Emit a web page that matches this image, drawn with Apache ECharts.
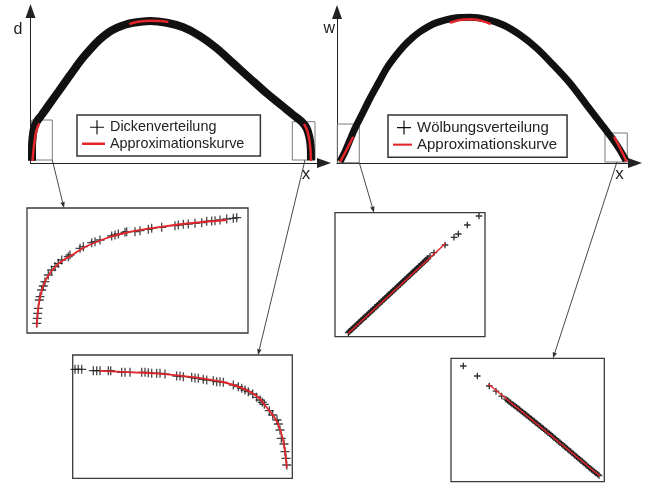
<!DOCTYPE html>
<html>
<head>
<meta charset="utf-8">
<script src="https://cdn.jsdelivr.net/npm/echarts@6/dist/echarts.min.js"></script>
<style>
  html, body { margin: 0; padding: 0; background: #fff; }
  #chart { width: 645px; height: 486px; }
</style>
</head>
<body>
<div id="chart"></div>
<script>
// ---- Thickness distribution d(x), chord position x in [0, 1] ----
const thickX = [0, 0, 0.0025, 0.0072, 0.0168, 0.0348, 0.0645, 0.0943, 0.1244, 0.1541, 0.1839, 0.2140,
  0.2437, 0.2735, 0.3036, 0.3333, 0.3631, 0.4229, 0.4828, 0.5423, 0.6022, 0.6620, 0.7215, 0.7814,
  0.8412, 0.9007, 0.9366, 0.9667, 0.9846, 0.9939, 0.9989, 1.0];
const thickD = [0.015, 0.115, 0.185, 0.244, 0.291, 0.338, 0.420, 0.502, 0.585, 0.667, 0.744, 0.812,
  0.871, 0.918, 0.951, 0.974, 0.988, 1.0, 0.988, 0.956, 0.894, 0.808, 0.702, 0.596,
  0.491, 0.396, 0.338, 0.291, 0.244, 0.185, 0.115, 0.02];
// Approximation curve, shown where it leaves the data band (null = gap)
const thickFit = [[0.0018, 0.014], [0.0054, 0.092], [0.0108, 0.176], [0.0161, 0.232], [0.0262, 0.280], [null, null],
  [0.349, 0.979], [0.387, 0.996], [0.423, 1.002], [0.459, 1.0], [0.489, 0.993], [null, null],
  [0.975, 0.275], [0.987, 0.225], [0.994, 0.162], [0.998, 0.092], [1.0, 0.014]];

// ---- Camber distribution w(x) ----
const camberX = [0, 0.0174, 0.0348, 0.0523, 0.0756, 0.1045, 0.1334, 0.1627, 0.1916, 0.2206, 0.2498,
  0.2787, 0.3077, 0.3369, 0.3948, 0.4530, 0.5111, 0.5690, 0.6272, 0.6854, 0.7432, 0.8014,
  0.8596, 0.9174, 0.9523, 0.9756, 0.9965];
const camberW = [0.009, 0.077, 0.158, 0.238, 0.329, 0.443, 0.546, 0.649, 0.728, 0.797, 0.854,
  0.899, 0.934, 0.961, 0.991, 0.998, 0.984, 0.945, 0.877, 0.786, 0.671, 0.546,
  0.397, 0.249, 0.158, 0.089, 0.016];
const camberFit = [[0, 0.007], [0.0226, 0.089], [0.0463, 0.180], [null, null],
  [0.3833, 0.961], [0.418, 0.979], [0.453, 0.984], [0.488, 0.977], [0.525, 0.952], [null, null],
  [0.9547, 0.180], [0.9774, 0.096], [0.999, 0.009]];

// Zoom windows marked in the overview plots: [[x0, y0], [x1, y1]]
const thickZoomLE = [[-0.0011, 0.3028], [0.0728, 0.0211]];
const thickZoomTE = [[0.933, 0.2908], [1.0143, 0.0211]];
const camberZoomLE = [[-0.0094, 0.267], [0.0672, 0.002]];
const camberZoomTE = [[0.9233, 0.2055], [1.0010, 0.0068]];

// ---- Enlarged views (local units of each inset) ----
const thickLEPoints = [[9.7, 9.7], [10.3, 14.7], [10.7, 19.7], [11.3, 24.7], [12.3, 33], [13, 36.3], [14.7, 43],
  [16.3, 47], [18, 51.3], [21.3, 58], [24.7, 63], [28, 66.3], [31.3, 69.7], [34.7, 73], [41.3, 76.3], [43, 78],
  [53, 84.7], [56.3, 86.3], [64.7, 90.3], [68, 91.3], [73, 93], [84.7, 97], [88, 98], [91.3, 99], [98, 100.7],
  [99.7, 101.3], [108, 101.3], [113, 102.3], [121.3, 103.7], [124.7, 104.7], [134.7, 105.7], [148, 107.3],
  [151.3, 108], [156.3, 108.7], [161.3, 109], [168, 109.7], [174.7, 110.3], [179.7, 111.7], [184.7, 112],
  [188, 112.3], [193, 113], [199.7, 114], [206.3, 114.7], [209.7, 115.3]];
const thickLEFit = [[9.7, 6], [10.5, 18], [12, 30], [14, 40], [17, 49], [21, 57], [27, 65], [35, 72], [45, 78],
  [60, 87], [80, 95], [100, 100.5], [130, 105.5], [160, 109.5], [200, 113]];

const thickTEPoints = [[2.3, 109], [5.6, 109], [9, 109], [20.6, 107.6], [24, 107.6], [27.3, 107.6], [35.6, 107.6],
  [38, 107.6], [49, 106], [52.3, 106], [57.3, 106], [69, 106], [72.3, 106], [75.6, 105.6], [79, 105], [84, 105],
  [87.3, 105], [92.3, 104.3], [104, 102.3], [107.3, 102.3], [110.6, 101.6], [119, 101], [122.3, 100.3],
  [125.6, 100], [130.6, 99], [134, 98.3], [140.6, 97.6], [144, 96.6], [147.3, 96.6], [150.6, 96], [160.6, 93.3],
  [165.6, 91.6], [169, 90], [172.3, 88.3], [175.6, 86.6], [180, 84.3], [184, 81], [187.3, 78.3], [189.6, 76],
  [191.6, 74], [196.6, 67.6], [200, 63.3], [204.3, 58.3], [205.6, 54.3], [207.3, 48.3], [208.6, 40],
  [211.3, 34.3], [212.3, 26.6], [213.3, 20], [214, 13.3]];
const thickTEFit = [[27.3, 107.5], [60, 106], [90, 104.5], [120, 101.2], [150, 96.3], [170, 90], [185, 81.5],
  [195, 69.5], [203, 59], [208, 47], [211, 35], [213, 22], [214, 10]];

const camberLEPoints = [[13.3, 4], [14.2, 5.2], [15, 5.5], [16.1, 7], [17, 7.5], [18.2, 9], [19, 9.2], [20.1, 10.6],
  [21, 11], [22.2, 12.6], [23, 13], [24.1, 14.4], [25, 15], [26.2, 16.3], [27, 16.6], [28.1, 18.2], [29, 18.6],
  [30.2, 20], [31, 20.3], [32.1, 22], [33, 22.3], [34.2, 23.8], [35, 24], [36.1, 25.7], [37, 26], [38.2, 27.5],
  [39, 27.8], [40.1, 29.4], [41, 29.8], [42.2, 31.2], [43, 31.5], [44.1, 33.1], [45, 33.6], [46.2, 35], [47, 35.3],
  [48.1, 36.9], [49, 37.3], [50.2, 38.7], [51, 39], [52.1, 40.6], [53, 41], [54.2, 42.4], [55, 42.8], [56.1, 44.3],
  [57, 44.6], [58.2, 46.1], [59, 46.5], [60.1, 48], [61, 48.4], [62.2, 49.9], [63, 50.2], [64.1, 51.8], [65, 52.2],
  [66.2, 53.6], [67, 54], [68.1, 55.5], [69, 55.8], [70.2, 57.3], [71, 57.8], [72.1, 59.2], [73, 59.6], [74.2, 61],
  [75, 61.5], [76.1, 62.9], [77, 63.4], [78.2, 64.7], [79, 65.2], [80.1, 66.7], [81, 67.2], [82.2, 68.5], [83, 69],
  [84.1, 70.4], [85, 70.8], [86.2, 72.2], [87, 72.8], [88.1, 74.1], [89, 74.6], [90.2, 75.9], [91, 76.6],
  [92.1, 77.8], [93, 78.5], [95, 80.5], [99, 84], [110, 91.7], [119, 99.4], [123.3, 102.7], [132.3, 111.7],
  [144, 120.7]];
const camberLEFit = [[13.3, 3.4], [110.7, 93.4]];

const camberTEPoints = [[12.3, 115.7], [26.3, 105.7], [38.3, 95.7], [45, 90.5], [50.7, 85.6], [55, 82.5],
  [56.6, 81.4], [58, 80], [59.6, 79], [61, 77.8], [62.6, 76.8], [64, 75.6], [65.6, 74.5], [67, 73.2], [68.6, 72.1],
  [70, 70.8], [71.6, 69.8], [73, 68.5], [74.6, 67.4], [76, 66.1], [77.6, 65], [79, 63.7], [80.6, 62.6], [82, 61.2],
  [83.6, 60.2], [85, 58.8], [86.6, 57.8], [88, 56.4], [89.6, 55.3], [91, 53.9], [92.6, 52.9], [94, 51.5],
  [95.6, 50.4], [97, 49], [98.6, 48], [100, 46.6], [101.6, 45.4], [103, 44], [104.6, 42.9], [106, 41.5],
  [107.6, 40.3], [109, 39], [110.6, 37.8], [112, 36.5], [113.6, 35.3], [115, 33.9], [116.6, 32.7], [118, 31.4],
  [119.6, 30.2], [121, 28.8], [122.6, 27.6], [124, 26.3], [125.6, 25], [127, 23.7], [128.6, 22.5], [130, 21.2],
  [131.6, 19.9], [133, 18.6], [134.6, 17.4], [136, 16], [137.6, 14.8], [139, 13.5], [140.6, 12.3], [142, 11],
  [143.6, 9.8], [145, 8.6], [146.6, 7.4], [148, 6.2]];
const camberTEFit = [[37.3, 97.7], [149, 5.7]];

// ---- styling ----
const AXIS_COLOR = '#222';
const FIT_COLOR = '#e3262b';
const DATA_COLOR = '#111';
const FONT = 'Liberation Sans, Arial, sans-serif';
const PLUS = 'path://M4.3,0h1.4v4.3h4.3v1.4h-4.3v4.3h-1.4v-4.3h-4.3v-1.4h4.3z';
const PLUS_BOLD = 'path://M4,0h2v4h4v2h-4v4h-2v-4h-4v-2h4z';
const LEGEND_PLUS_L = 'path://M0,6.4h0.01v0.01h-0.01z M13.4,0h1.2v6.4h6.4v1.2h-6.4v6.4h-1.2v-6.4h-6.4v-1.2h6.4z';
const LEGEND_PLUS_R = 'path://M0,6.4h0.01v0.01h-0.01z M9.4,0h1.2v6.4h6.4v1.2h-6.4v6.4h-1.2v-6.4h-6.4v-1.2h6.4z';
const LEGEND_LINE = 'path://M0,0h20v2.2h-20z';

const zip = (xs, ys) => xs.map((x, i) => [x, ys[i]]);

function overviewAxes(gridIndex, xMin, xMax, yMax, yName, nameGapY, namePadR, xNameGap) {
  const line = { show: true, onZero: false, symbol: ['none', 'triangle'], symbolSize: [10, 14],
    lineStyle: { color: AXIS_COLOR, width: 1 } };
  return {
    x: { type: 'value', gridIndex, min: xMin, max: xMax, axisLine: line, axisTick: { show: false },
      axisLabel: { show: false }, splitLine: { show: false },
      name: 'x', nameLocation: 'end', nameGap: xNameGap,
      nameTextStyle: { fontFamily: FONT, fontSize: 17, color: AXIS_COLOR, align: 'center', verticalAlign: 'top',
        padding: [3, 0, 0, 0] } },
    y: { type: 'value', gridIndex, min: 0, max: yMax, axisLine: line, axisTick: { show: false },
      axisLabel: { show: false }, splitLine: { show: false },
      name: yName, nameLocation: 'end', nameGap: nameGapY,
      nameTextStyle: { fontFamily: FONT, fontSize: 16, color: AXIS_COLOR, align: 'right', verticalAlign: 'middle',
        padding: [0, namePadR, 0, 0] } }
  };
}
function hiddenAxes(gridIndex, xMax, yMax) {
  const hidden = { show: false };
  return {
    x: { type: 'value', gridIndex, min: 0, max: xMax, show: false, splitLine: hidden },
    y: { type: 'value', gridIndex, min: 0, max: yMax, show: false, splitLine: hidden }
  };
}

const a0 = overviewAxes(0, -0.0054, 1.0466, 1.0704, 'd', -19, 8, -18);
const a1 = overviewAxes(1, -0.01045, 1.0279, 1.0342, 'w', -16.5, 2, -15.5);
const a2 = hiddenAxes(2, 221, 125);
const a3 = hiddenAxes(3, 219.6, 123.3);
const a4 = hiddenAxes(4, 150, 124);
const a5 = hiddenAxes(5, 153.3, 123.4);

const insetGrid = (left, top, width, height) => ({
  left, top, width, height, show: true, borderColor: '#3a3a3a', borderWidth: 1.3, backgroundColor: 'transparent'
});

const zoomBox = (box) => [{ coord: box[0] }, { coord: box[1] }];
const boxStyle = { color: 'rgba(0,0,0,0)', borderColor: '#7a7a7a', borderWidth: 1 };

const legendText = (size) => ({ fontFamily: FONT, fontSize: size, color: '#222', lineHeight: size + 2.1 });

const option = {
  animation: false,
  backgroundColor: '#fff',
  grid: [
    { left: 30.5, top: 11, width: 293.5, height: 152 },
    { left: 337, top: 12, width: 298, height: 151 },
    insetGrid(27, 208, 221, 125),
    insetGrid(72.7, 355, 219.6, 123.3),
    insetGrid(335, 212.7, 150, 124),
    insetGrid(451, 358.3, 153.3, 123.4)
  ],
  xAxis: [a0.x, a1.x, a2.x, a3.x, a4.x, a5.x],
  yAxis: [a0.y, a1.y, a2.y, a3.y, a4.y, a5.y],
  legend: [
    { orient: 'vertical', left: 77, top: 115, itemGap: 0, itemWidth: 23, itemHeight: 14,
      padding: [4, 16, 4, 5], borderColor: '#333', borderWidth: 1.5, backgroundColor: '#fff',
      textStyle: legendText(14.4),
      data: [{ name: 'Dickenverteilung', icon: LEGEND_PLUS_L }, { name: 'Approximationskurve', icon: LEGEND_LINE }] },
    { orient: 'vertical', left: 388, top: 115, itemGap: 0, itemWidth: 19, itemHeight: 14,
      padding: [4, 10, 4, 5], borderColor: '#333', borderWidth: 1.5, backgroundColor: '#fff',
      textStyle: legendText(15),
      data: [{ name: 'Wölbungsverteilung', icon: LEGEND_PLUS_R }, { name: 'Approximationskurve', icon: LEGEND_LINE }] }
  ],
  series: [
    { name: 'Dickenverteilung', type: 'line', xAxisIndex: 0, yAxisIndex: 0, data: zip(thickX, thickD),
      smooth: 0.3, showSymbol: false, symbol: 'none', color: DATA_COLOR,
      lineStyle: { color: DATA_COLOR, width: 8 }, z: 3,
      markArea: { silent: true, label: { show: false }, itemStyle: boxStyle,
        data: [zoomBox(thickZoomLE), zoomBox(thickZoomTE)] } },
    { name: 'Approximationskurve', type: 'line', xAxisIndex: 0, yAxisIndex: 0, data: thickFit,
      smooth: 0.3, connectNulls: false, showSymbol: false, symbol: 'none', color: FIT_COLOR,
      lineStyle: { color: FIT_COLOR, width: 2.5 }, z: 4 },
    { name: 'Wölbungsverteilung', type: 'line', xAxisIndex: 1, yAxisIndex: 1, data: zip(camberX, camberW),
      smooth: 0.3, showSymbol: false, symbol: 'none', color: DATA_COLOR,
      lineStyle: { color: DATA_COLOR, width: 7 }, z: 3,
      markArea: { silent: true, label: { show: false }, itemStyle: boxStyle,
        data: [zoomBox(camberZoomLE), zoomBox(camberZoomTE)] } },
    { name: 'Approximationskurve', type: 'line', xAxisIndex: 1, yAxisIndex: 1, data: camberFit,
      smooth: 0.3, connectNulls: false, showSymbol: false, symbol: 'none', color: FIT_COLOR,
      lineStyle: { color: FIT_COLOR, width: 2.5 }, z: 4 },

    { name: 'Dickenverteilung', type: 'scatter', xAxisIndex: 2, yAxisIndex: 2, data: thickLEPoints,
      symbol: PLUS, symbolSize: 9, itemStyle: { color: '#222', opacity: 0.85 }, z: 3 },
    { name: 'Approximationskurve', type: 'line', xAxisIndex: 2, yAxisIndex: 2, data: thickLEFit,
      smooth: 0.4, showSymbol: false, symbol: 'none', color: FIT_COLOR,
      lineStyle: { color: FIT_COLOR, width: 1.8 }, z: 4 },
    { name: 'Dickenverteilung', type: 'scatter', xAxisIndex: 3, yAxisIndex: 3, data: thickTEPoints,
      symbol: PLUS, symbolSize: 9, itemStyle: { color: '#222', opacity: 0.85 }, z: 3 },
    { name: 'Approximationskurve', type: 'line', xAxisIndex: 3, yAxisIndex: 3, data: thickTEFit,
      smooth: 0.4, showSymbol: false, symbol: 'none', color: FIT_COLOR,
      lineStyle: { color: FIT_COLOR, width: 1.8 }, z: 4 },
    { name: 'Wölbungsverteilung', type: 'scatter', xAxisIndex: 4, yAxisIndex: 4, data: camberLEPoints,
      symbol: PLUS_BOLD, symbolSize: 6.5, itemStyle: { color: '#1a1a1a', opacity: 0.9 }, z: 3 },
    { name: 'Approximationskurve', type: 'line', xAxisIndex: 4, yAxisIndex: 4, data: camberLEFit,
      showSymbol: false, symbol: 'none', color: FIT_COLOR,
      lineStyle: { color: FIT_COLOR, width: 1.5 }, z: 4 },
    { name: 'Wölbungsverteilung', type: 'scatter', xAxisIndex: 5, yAxisIndex: 5, data: camberTEPoints,
      symbol: PLUS_BOLD, symbolSize: 6.5, itemStyle: { color: '#1a1a1a', opacity: 0.9 }, z: 3 },
    { name: 'Approximationskurve', type: 'line', xAxisIndex: 5, yAxisIndex: 5, data: camberTEFit,
      showSymbol: false, symbol: 'none', color: FIT_COLOR,
      lineStyle: { color: FIT_COLOR, width: 1.5 }, z: 4 }
  ]
};

const chart = echarts.init(document.getElementById('chart'), null, { renderer: 'canvas' });
chart.setOption(option);

// Leader lines from each zoom window to its enlarged view
const leaders = [
  { from: [0, [0.0728, 0.0211]], to: [2, [37, 125]] },
  { from: [0, [0.9785, 0.0211]], to: [3, [185.3, 123.3]] },
  { from: [1, [0.0672, 0.002]], to: [4, [39, 124]] },
  { from: [1, [0.965, 0.0068]], to: [5, [102, 123.4]] }
];
const leaderGraphics = [];
leaders.forEach((l) => {
  const p = chart.convertToPixel({ gridIndex: l.from[0] }, l.from[1]);
  const q = chart.convertToPixel({ gridIndex: l.to[0] }, l.to[1]);
  const dx = q[0] - p[0], dy = q[1] - p[1];
  const len = Math.hypot(dx, dy), ux = dx / len, uy = dy / len;
  const head = 6, half = 2.2;
  const bx = q[0] - ux * head, by = q[1] - uy * head;
  leaderGraphics.push({ type: 'line', silent: true, z: 10,
    shape: { x1: p[0], y1: p[1], x2: bx, y2: by }, style: { stroke: '#333', lineWidth: 0.9 } });
  leaderGraphics.push({ type: 'polygon', silent: true, z: 10,
    shape: { points: [[q[0], q[1]], [bx - uy * half, by + ux * half], [bx + uy * half, by - ux * half]] },
    style: { fill: '#333' } });
});
chart.setOption({ graphic: leaderGraphics });
</script>
</body>
</html>
